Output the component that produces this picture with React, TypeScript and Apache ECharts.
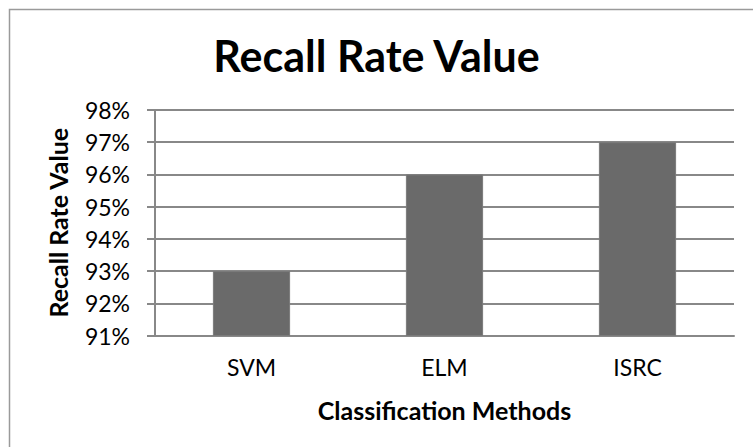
import React, { useEffect, useRef } from "react";
import * as echarts from "echarts";

const categories = ["SVM", "ELM", "ISRC"];
const recallValues = [93, 96, 97];
const yMin = 91;
const yMax = 98;
const titleText = "Recall Rate Value";
const yAxisName = "Recall Rate Value";
const xAxisName = "Classification Methods";

const FONT = "Lato, 'Open Sans', sans-serif";

export default function App() {
  const ref = useRef<HTMLDivElement>(null);
  useEffect(() => {
    document.body.style.margin = "0";
    if (!ref.current) return;
    const chart = echarts.init(ref.current, null, { renderer: "svg" });
    chart.setOption({
      animation: false,
      backgroundColor: "#ffffff",
      textStyle: { fontFamily: FONT },
      title: {
        text: titleText,
        left: "center",
        top: 29,
        textStyle: { fontFamily: FONT, fontSize: 43, fontWeight: "bold", color: "#000" },
      },
      graphic: [
        {
          type: "rect",
          shape: { x: 9.5, y: 9.5, width: 900, height: 600 },
          style: { fill: "none", stroke: "#9a9a9a", lineWidth: 1.5 },
          silent: true,
        },
      ],
      grid: { left: 155, right: 19, top: 110, bottom: 111.5, containLabel: false },
      xAxis: {
        type: "category",
        data: categories,
        name: xAxisName,
        nameLocation: "middle",
        nameGap: 62,
        nameTextStyle: { fontFamily: FONT, fontSize: 25, fontWeight: "bold", color: "#000" },
        axisLine: { show: true, lineStyle: { color: "#888", width: 2 } },
        axisTick: { show: false },
        axisLabel: { fontFamily: FONT, fontSize: 23, color: "#000", margin: 20 },
      },
      yAxis: {
        type: "value",
        min: yMin,
        max: yMax,
        interval: 1,
        name: yAxisName,
        nameLocation: "middle",
        nameGap: 85,
        nameRotate: 90,
        nameTextStyle: { fontFamily: FONT, fontSize: 25, fontWeight: "bold", color: "#000" },
        axisLine: { show: true, lineStyle: { color: "#888", width: 2 } },
        axisTick: { show: true, inside: false, length: 8, lineStyle: { color: "#888", width: 2 } },
        axisLabel: {
          fontFamily: FONT,
          fontSize: 23,
          color: "#000",
          margin: 25,
          formatter: (v: number) => `${v}%`,
        },
        splitLine: { show: true, lineStyle: { color: "#888", width: 2 } },
      },
      series: [
        {
          type: "bar",
          data: recallValues,
          barWidth: "40%",
          itemStyle: { color: "#6a6a6a", borderColor: "#7a7a7a", borderWidth: 1 },
        },
      ],
    });
    return () => chart.dispose();
  }, []);
  return <div ref={ref} style={{ width: 753, height: 447 }} />;
}
